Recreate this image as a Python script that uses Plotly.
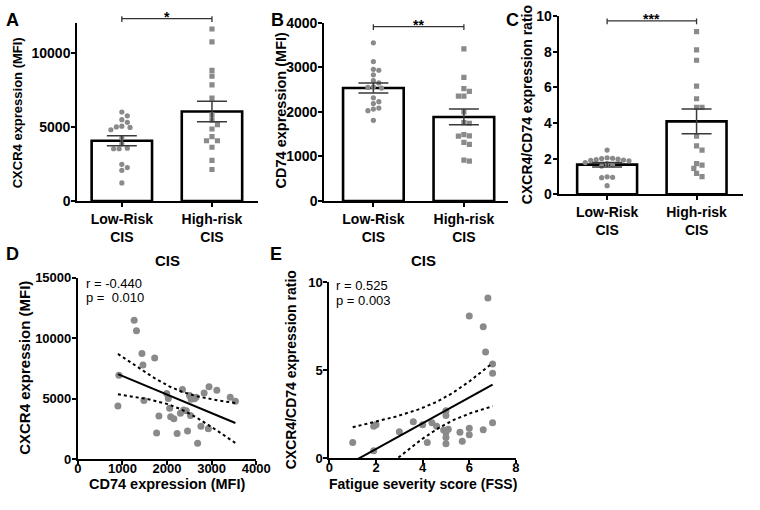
import numpy as np
import plotly.graph_objects as go

W, H = 760, 510
FONT = "Liberation Sans, Arial, sans-serif"
GRAY = "#8a8a8a"

# ---------------- data ----------------
categories = ["Low-Risk<br>CIS", "High-risk<br>CIS"]

cxcr4_low = [6010, 5750, 5490, 5310, 5050, 5000, 4970, 4810, 4250, 3860, 3570,
             3530, 3530, 2480, 2260, 2070, 1220]
cxcr4_high = [11610, 10740, 8820, 8430, 7840, 6950, 5820, 5460, 5160, 4860, 4350,
              4070, 4070, 3630, 2740, 2130]

cd74_low = [3550, 3130, 2957, 2935, 2833, 2702, 2652, 2550, 2535, 2565, 2317,
            2187, 2230, 2065, 2028, 2087, 1811]
cd74_high = [3413, 2774, 2522, 2463, 2354, 2354, 2000, 1761, 1746, 1491, 1457,
             1463, 1317, 1274, 898, 920]

ratio_low = [2.48, 2.05, 2.02, 2.00, 1.97, 1.95, 1.92, 1.90, 1.88, 1.78, 1.72,
             1.65, 1.58, 0.98, 0.95, 0.93, 0.48]
ratio_high = [9.13, 8.10, 7.52, 6.07, 5.36, 4.87, 4.87, 3.26, 2.72, 2.48, 1.63,
              1.72, 1.45, 1.17, 0.99]

d_cd74 = [1262, 1314, 1437, 1722, 1459, 920, 898, 1481, 1993, 2029, 2059, 1818,
          2081, 2153, 1766, 2226, 2460, 2300, 2431, 2372, 2526, 2344, 2504, 2541,
          2613, 2650, 2832, 2942, 3117, 3417, 3533, 2760, 2927, 2686]
d_cxcr4 = [11480, 10600, 8730, 8360, 7770, 6920, 4380, 4840, 5420, 5000, 4200, 3560,
           3500, 3340, 2160, 2110, 2320, 3790, 4000, 4060, 3600, 5760, 5260, 4940,
           4990, 5100, 5470, 5980, 5680, 5100, 4780, 2720, 2510, 1310]

e_fss = [1.0, 1.9, 1.9, 2.0, 3.0, 3.6, 4.0, 4.2, 4.4, 4.6, 5.0, 5.0, 4.9, 5.1, 5.0,
         5.0, 5.0, 5.6, 5.7, 6.0, 6.0, 6.0, 6.6, 6.6, 6.8, 6.7, 7.0, 7.0, 7.0]
e_ratio = [0.90, 0.44, 1.83, 1.91, 1.52, 2.09, 1.91, 0.90, 2.02, 1.83, 2.71, 2.44,
           1.61, 1.65, 1.47, 1.19, 0.83, 1.49, 0.97, 1.71, 1.34, 8.09, 1.63, 7.48,
           9.12, 6.05, 5.36, 4.84, 2.02]

sig_labels = ["*", "**", "***"]
d_stats = ["r = -0.440", "p =\u00a0\u00a00.010"]
e_stats = ["r = 0.525", "p = 0.003"]

# ---------------- helpers ----------------
def px(x):
    return x / W


def py(y):
    return 1 - y / H


def swarm(vals, ypx_per_unit, xpx_per_unit, diam):
    vals = np.asarray(vals, float)
    order = np.argsort(-vals)
    placed = []
    offs = np.zeros(len(vals))
    cands = [0.0]
    for j in range(1, 30):
        cands += [j * diam * 0.5, -j * diam * 0.5]
    for i in order:
        yv = vals[i] * ypx_per_unit
        for c in cands:
            if all((c - a) ** 2 + (yv - b) ** 2 >= (diam * 0.98) ** 2 for a, b in placed):
                break
        placed.append((c, yv))
        offs[i] = c / xpx_per_unit
    return offs


fig = go.Figure()
layout = dict(
    width=W, height=H, margin=dict(l=0, r=0, t=0, b=0),
    paper_bgcolor="white", plot_bgcolor="white", showlegend=False,
    font=dict(family=FONT, color="black"),
)
shapes, annos = [], []

axis_common = dict(showline=True, linecolor="black", linewidth=2, ticks="outside",
                   ticklen=4, tickwidth=2, tickcolor="black", showgrid=False,
                   zeroline=False, fixedrange=True, exponentformat="none",
                   separatethousands=False)

bar_panels = [
    (cxcr4_low, cxcr4_high, (75, 260), (199.3, 15.7), (-0.495, 1.509), 12000, 5000,
     "CXCR4 expression (MFI)", (14, 108), 13, 11, "A", 0),
    (cd74_low, cd74_high, (328, 516), (199.3, 15.3), (-0.543, 1.485), 4000, 1000,
     "CD74 expression (MFI)", (283.5, 106), 14.5, 19.3, "B", 271),
    (ratio_low, ratio_high, (568, 757), (192.3, 8.3), (-0.543, 1.52), 10, 2,
     "CXCR4/CD74 expression ratio", (536, 100), 14, 13.3, "C", 512),
]

for k, (lo, hi, xp, yp, xr, ymax, dt, ttl, tc, tsize, sigy, letter, lx) in enumerate(bar_panels):
    n = k + 1
    xa, ya = f"x{n}", f"y{n}"
    groups = [np.array(lo, float), np.array(hi, float)]
    means = [g.mean() for g in groups]
    sems = [g.std(ddof=1) / np.sqrt(len(g)) for g in groups]
    xpu = (xp[1] - xp[0]) / (xr[1] - xr[0])
    ypu = (yp[0] - yp[1]) / ymax
    fig.add_trace(go.Bar(x=[0, 1], y=means, width=0.67, xaxis=xa, yaxis=ya,
                         marker=dict(color="white", line=dict(color="black", width=2.6))))
    for gi, (g, sym) in enumerate(zip(groups, ["circle", "square"])):
        offs = swarm(g, ypu, xpu, 5.6)
        fig.add_trace(go.Scatter(x=gi + offs, y=g, mode="markers", xaxis=xa, yaxis=ya,
                                 marker=dict(symbol=sym, size=5.2, color=GRAY,
                                             line=dict(width=0))))
    fig.add_trace(go.Scatter(x=[0, 1], y=means, mode="markers", xaxis=xa, yaxis=ya,
                             marker=dict(size=1, color="rgba(0,0,0,0)"),
                             error_y=dict(type="data", array=sems, color="#3a3a3a",
                                          thickness=1.5, width=15)))
    layout[f"xaxis{n}"] = dict(axis_common, domain=[px(xp[0]), px(xp[1])], range=list(xr),
                               anchor=ya, tickvals=[0, 1], ticktext=categories,
                               ticklabelstandoff=0,
                               tickfont=dict(size=14, weight="bold"))
    layout[f"yaxis{n}"] = dict(axis_common, domain=[py(yp[0]), py(yp[1])], range=[0, ymax],
                               anchor=xa, dtick=dt, tickformat="d", ticklabelstandoff=-2,
                               tickfont=dict(size=14, weight="bold"))
    annos.append(dict(text=ttl, x=px(tc[0]), y=py(tc[1]), xref="paper", yref="paper",
                      textangle=-90, showarrow=False, xanchor="center", yanchor="middle",
                      font=dict(size=tsize, weight="bold")))
    # significance bracket
    c0 = xp[0] + (0 - xr[0]) * xpu
    c1 = xp[0] + (1 - xr[0]) * xpu
    line = dict(type="line", xref="paper", yref="paper", line=dict(color="#333", width=1.3))
    shapes.append(dict(line, x0=px(c0), x1=px(c1), y0=py(sigy), y1=py(sigy)))
    for c in (c0, c1):
        shapes.append(dict(line, x0=px(c), x1=px(c), y0=py(sigy - 2.5), y1=py(sigy + 3.5)))
    annos.append(dict(text=sig_labels[k], x=px((c0 + c1) / 2), y=py(sigy - 1.5), xref="paper",
                      yref="paper", showarrow=False, xanchor="center", yanchor="bottom",
                      yshift=-10, font=dict(size=14, weight="bold")))
    annos.append(dict(text=letter, x=px(lx), y=py(12.5), xref="paper", yref="paper",
                      showarrow=False, xanchor="left", yanchor="middle",
                      font=dict(size=18, weight="bold")))


def add_scatter_panel(n, xs, ys, xp, yp, xr, yr, dtx, dty, xt, xts, yt, ytc, yts,
                      stats, sx, sy, title_x, letter, lx):
    xa, ya = f"x{n}", f"y{n}"
    xs = np.asarray(xs, float)
    ys = np.asarray(ys, float)
    nn = len(xs)
    slope, icpt = np.polyfit(xs, ys, 1)
    grid = np.linspace(xs.min(), xs.max(), 120)
    fit = slope * grid + icpt
    resid = ys - (slope * xs + icpt)
    s = np.sqrt((resid ** 2).sum() / (nn - 2))
    sxx = ((xs - xs.mean()) ** 2).sum()
    df = nn - 2
    tval = 1.96 + 2.4 / df
    se = s * np.sqrt(1 / nn + (grid - xs.mean()) ** 2 / sxx)
    fig.add_trace(go.Scatter(x=xs, y=ys, mode="markers", xaxis=xa, yaxis=ya,
                             marker=dict(size=7, color=GRAY, line=dict(width=0))))
    for band in (fit + tval * se, fit - tval * se):
        fig.add_trace(go.Scatter(x=grid, y=band, mode="lines", xaxis=xa, yaxis=ya,
                                 line=dict(color="black", width=2, dash="dot")))
    fig.add_trace(go.Scatter(x=grid, y=fit, mode="lines", xaxis=xa, yaxis=ya,
                             line=dict(color="black", width=2)))
    layout[f"xaxis{n}"] = dict(axis_common, domain=[px(xp[0]), px(xp[1])], range=list(xr),
                               anchor=ya, dtick=dtx, tickformat="d", ticklabelstandoff=-8,
                               tickfont=dict(size=13, weight="bold"))
    layout[f"yaxis{n}"] = dict(axis_common, domain=[py(yp[0]), py(yp[1])], range=list(yr),
                               anchor=xa, dtick=dty, tickformat="d", ticklabelstandoff=-2,
                               tickfont=dict(size=13, weight="bold"))
    annos.append(dict(text=xt, x=px((xp[0] + xp[1]) / 2), y=py(491), xref="paper",
                      yref="paper", showarrow=False, xanchor="center", yanchor="middle",
                      font=dict(size=xts, weight="bold")))
    annos.append(dict(text=yt, x=px(ytc[0]), y=py(ytc[1]), xref="paper", yref="paper",
                      textangle=-90, showarrow=False, xanchor="center", yanchor="middle",
                      font=dict(size=yts, weight="bold")))
    for i, t in enumerate(stats):
        annos.append(dict(text=t, x=px(sx), y=py(sy + 14.5 * i), xref="paper", yref="paper",
                          showarrow=False, xanchor="left", yanchor="middle",
                          font=dict(size=13)))
    annos.append(dict(text="CIS", x=px(title_x), y=py(261), xref="paper", yref="paper",
                      showarrow=False, xanchor="center", yanchor="middle",
                      font=dict(size=15, weight="bold")))
    annos.append(dict(text=letter, x=px(lx), y=py(254), xref="paper", yref="paper",
                      showarrow=False, xanchor="left", yanchor="middle",
                      font=dict(size=18, weight="bold")))


add_scatter_panel(4, d_cd74, d_cxcr4, (75.7, 258.3), (465.7, 278.3), (0, 4000), (0, 15000),
                  1000, 5000, "CD74 expression (MFI)", 14.5, "CXCR4 expression (MFI)",
                  (21, 372), 15, d_stats, 82, 284, 167, "D", 0)
add_scatter_panel(5, e_fss, e_ratio, (333.3, 524.3), (465, 283.3), (0, 8), (0, 10),
                  2, 5, "Fatigue severity score (FSS)", 14, "CXCR4/CD74 expression ratio",
                  (294, 374), 14, e_stats, 338, 287, 430, "E", 270)

layout["shapes"] = shapes
layout["annotations"] = annos
fig.update_layout(**layout)
fig.write_html("out.html", config={"displayModeBar": False},
               post_script="document.body.style.margin='0';document.body.style.overflow='hidden';")
